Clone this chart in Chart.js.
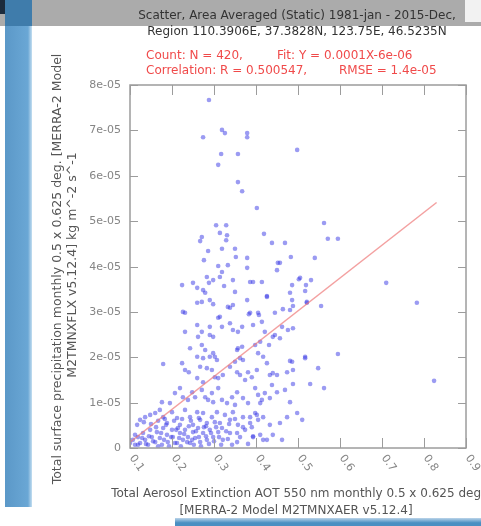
<!DOCTYPE html>
<html>
<head>
<meta charset="utf-8">
<script src="https://cdn.jsdelivr.net/npm/chart.js@4/dist/chart.umd.min.js"></script>
<style>
  html, body { margin: 0; padding: 0; background: #fff; }
  #page { position: relative; width: 481px; height: 526px; overflow: hidden; font-family: "DejaVu Sans", sans-serif; }
  .header { position: absolute; left: 0; top: 0; width: 481px; height: 26px; background: #ababab; }
  .corner { position: absolute; left: 0; top: 0; width: 30px; height: 14px; background: #1c2b3c; }
  .topbox { position: absolute; right: 0; top: 0; width: 16px; height: 22px; background: #f2f2f2; }
  .sidebar { position: absolute; left: 5px; top: 0; width: 27px; height: 507px;
    background: linear-gradient(to right, #5b98c8, #6aa7d5 85%, #c4def0); }
  .sidebar-top { position: absolute; left: 5px; top: 0; width: 27px; height: 26px; background: #3f7cab; }
  .footbar { position: absolute; left: 175px; top: 518px; width: 306px; height: 8px;
    background: linear-gradient(#bcd5ea, #4a8fc2 60%); }
  canvas { position: absolute; left: 0; top: 0; }
  .t { position: absolute; white-space: pre; font-size: 12px; line-height: 14px; }
  .center { transform: translateX(-50%); }
  .title { color: #333; }
  .red { color: #f04a4a; }
  .axis { color: #555; }
  .ylab { transform: translate(-50%, -50%) rotate(-90deg); font-size: 12.5px; }
</style>
</head>
<body>
<div id="page">
  <div class="header"></div>
  <div class="corner"></div>
  <div class="topbox"></div>
  <div class="sidebar"></div>
  <div class="sidebar-top"></div>
  <div class="footbar"></div>
  <canvas id="scatter" width="481" height="526"></canvas>

  <div class="t title center" style="left:297px; top:8px;">Scatter, Area Averaged (Static) 1981-jan - 2015-Dec,</div>
  <div class="t title center" style="left:297px; top:24px;">Region 110.3906E, 37.3828N, 123.75E, 46.5235N</div>
  <div class="t red" style="left:146px; top:48px;">Count: N = 420,</div>
  <div class="t red" style="left:277px; top:48px;">Fit: Y = 0.0001X-6e-06</div>
  <div class="t red" style="left:146px; top:63px;">Correlation: R = 0.500547,</div>
  <div class="t red" style="left:339px; top:63px;">RMSE = 1.4e-05</div>

  <div class="t axis ylab" style="left:57px; top:269px;">Total surface precipitation monthly 0.5 x 0.625 deg. [MERRA-2 Model</div>
  <div class="t axis ylab" style="left:72px; top:265px;">M2TMNXFLX v5.12.4] kg m^-2 s^-1</div>

  <div class="t axis center" style="left:298px; top:486px;">Total Aerosol Extinction AOT 550 nm monthly 0.5 x 0.625 deg.</div>
  <div class="t axis center" style="left:296px; top:503px;">[MERRA-2 Model M2TMNXAER v5.12.4]</div>
</div>

<script>
// AOT (x) and precipitation (y, in units of 1e-05 kg m^-2 s^-1)
const aot = [
  0.288,0.274,0.319,0.326,0.379,0.379,0.498,0.317,0.357,0.310,
  0.357,0.367,0.402,0.305,0.329,0.314,0.331,0.267,0.271,0.329,
  0.419,0.438,0.469,0.286,0.319,0.350,0.276,0.352,0.379,0.483,
  0.457,0.562,0.571,0.595,0.540,0.310,0.333,0.379,0.450,0.283,
  0.298,0.288,0.319,0.314,0.224,0.250,0.260,0.274,0.279,0.324,
  0.345,0.386,0.393,0.414,0.486,0.502,0.519,0.531,0.710,0.350,
  0.379,0.426,0.481,0.486,0.521,0.555,0.345,0.338,0.298,0.231,
  0.314,0.407,0.383,0.464,0.783,0.488,0.481,0.517,0.548,0.595,
  0.488,0.529,0.562,0.824,0.498,0.510,0.488,0.505,0.517,0.452,
  0.226,0.260,0.271,0.290,0.333,0.386,0.405,0.426,0.445,0.481,
  0.231,0.262,0.271,0.290,0.298,0.310,0.319,0.338,0.345,0.357,
  0.393,0.414,0.421,0.445,0.462,0.476,0.260,0.290,0.367,0.410,
  0.440,0.457,0.521,0.179,0.243,0.260,0.271,0.279,0.290,0.302,
  0.307,0.357,0.369,0.398,0.405,0.417,0.431,0.367,0.355,0.274,
  0.298,0.350,0.362,0.486,0.517,0.224,0.231,0.240,0.267,0.283,
  0.295,0.302,0.310,0.321,0.260,0.274,0.338,0.355,0.362,0.381,
  0.390,0.402,0.426,0.433,0.450,0.474,0.488,0.440,0.438,0.374,
  0.176,0.195,0.207,0.219,0.226,0.238,0.248,0.255,0.271,0.279,
  0.286,0.295,0.298,0.310,0.319,0.331,0.343,0.350,0.355,0.369,
  0.381,0.398,0.405,0.414,0.421,0.433,0.450,0.469,0.481,0.402,
  0.410,0.386,0.124,0.136,0.148,0.160,0.171,0.179,0.188,0.200,
  0.212,0.219,0.231,0.243,0.250,0.260,0.267,0.274,0.283,0.295,
  0.307,0.314,0.326,0.338,0.345,0.357,0.369,0.386,0.398,0.405,
  0.417,0.433,0.457,0.474,0.355,0.369,0.393,0.390,0.410,0.426,0.462,
  0.100,0.107,0.112,0.119,0.124,0.131,0.136,0.143,0.148,0.152,
  0.160,0.164,0.171,0.176,0.179,0.188,0.190,0.200,0.202,0.212,
  0.214,0.219,0.226,0.231,0.238,0.243,0.250,0.255,0.262,0.267,
  0.274,0.283,0.290,0.298,0.310,0.321,0.338,0.355,0.374,0.393,
  0.417,0.440,
  0.112,0.119,0.129,0.138,0.145,0.155,0.162,0.167,0.174,0.181,
  0.186,0.193,0.198,0.207,0.210,0.217,0.221,0.229,0.236,0.240,
  0.248,0.252,0.257,0.264,0.269,0.276,0.281,0.288,0.293,0.300,
  0.305,0.312,0.317,0.329,0.333,0.343,0.362,0.381,
  0.117,0.133,0.150,0.167,0.183,0.205,0.224,0.245,0.264,0.281,
  0.302,0.319,0.336,0.350
];
const precip = [
  7.67,6.85,7.01,6.94,6.94,6.85,6.57,6.48,6.48,6.24,
  5.86,5.66,5.29,4.91,4.91,4.74,4.69,4.56,4.65,4.58,
  4.72,4.52,4.52,4.34,4.39,4.39,4.14,4.21,4.19,4.21,
  4.08,4.96,4.61,4.61,4.19,4.01,4.03,3.97,3.92,3.77,
  3.70,3.64,3.88,3.77,3.59,3.64,3.53,3.48,3.42,3.57,
  3.70,3.66,3.66,3.66,3.59,3.72,3.59,3.70,3.64,3.44,
  3.26,3.35,3.42,3.26,3.20,3.13,3.15,3.09,3.17,2.98,
  2.89,2.93,2.95,3.06,3.20,2.64,1.92,1.98,1.76,2.07,
  1.41,1.41,1.32,1.48,0.77,0.62,3.13,3.75,3.46,4.08,
  3.00,3.20,3.22,3.26,3.11,2.98,2.98,3.33,2.98,3.04,
  2.56,2.45,2.56,2.49,2.45,2.87,2.67,2.75,2.60,2.56,
  2.71,2.78,2.56,2.49,2.67,2.60,2.71,2.67,2.67,2.34,
  2.45,2.42,3.22,1.85,2.20,2.01,2.27,2.16,2.01,2.01,
  1.94,2.20,1.94,2.27,2.09,2.01,2.27,2.23,2.16,1.98,
  2.09,1.90,1.98,1.90,2.01,1.87,1.72,1.67,1.79,1.76,
  1.72,1.56,1.54,1.61,1.54,1.45,1.79,1.67,1.61,1.67,
  1.56,1.72,1.87,1.61,1.61,1.67,1.72,1.65,1.39,1.50,
  1.01,0.99,1.21,1.32,1.12,1.06,1.23,1.12,1.28,1.12,
  1.06,1.21,1.01,1.32,1.06,0.99,1.12,0.95,1.23,1.10,
  0.99,1.32,1.17,1.06,1.21,1.10,1.23,1.28,1.01,0.73,
  0.99,0.68,0.62,0.68,0.73,0.77,0.84,0.68,0.55,0.79,
  0.66,0.51,0.84,0.68,0.51,0.79,0.62,0.77,0.55,0.68,
  0.79,0.55,0.73,0.62,0.79,0.51,0.68,0.55,0.77,0.62,
  0.68,0.51,0.55,0.68,0.33,0.46,0.26,0.46,0.29,0.18,0.18,
  0.11,0.18,0.07,0.24,0.11,0.33,0.18,0.07,0.40,0.24,
  0.13,0.35,0.22,0.07,0.44,0.29,0.13,0.40,0.24,0.11,
  0.44,0.33,0.18,0.40,0.24,0.11,0.35,0.22,0.44,0.13,
  0.33,0.18,0.40,0.24,0.35,0.18,0.33,0.13,0.40,0.24,
  0.18,0.29,
  0.29,0.07,0.22,0.09,0.26,0.15,0.46,0.04,0.33,0.18,
  0.51,0.04,0.24,0.11,0.40,0.22,0.04,0.31,0.13,0.48,
  0.18,0.07,0.37,0.24,0.04,0.46,0.26,0.09,0.33,0.15,
  0.46,0.24,0.07,0.37,0.20,0.07,0.24,0.09,
  0.51,0.57,0.53,0.60,0.64,0.60,0.64,0.60,0.66,0.48,
  0.57,0.44,0.53,0.64
];

// regression line end points
const fitX = [0.10, 0.83];
const fitY = [0.13, 5.41];

const xTicks = [0.1, 0.2, 0.3, 0.4, 0.5, 0.6, 0.7, 0.8, 0.9];
const xTickLabels = ["0.1", "0.2", "0.3", "0.4", "0.5", "0.6", "0.7", "0.8", "0.9"];
const yTicks = [0, 1, 2, 3, 4, 5, 6, 7, 8];
const yTickLabels = ["0", "1e-05", "2e-05", "3e-05", "4e-05", "5e-05", "6e-05", "7e-05", "8e-05"];

// box, inward ticks and tick labels
const axisBox = {
  id: "axisBox",
  afterDraw(chart) {
    const { ctx, chartArea: a, scales: { x, y } } = chart;
    ctx.save();
    ctx.strokeStyle = "#9c9c9c";
    ctx.lineWidth = 1.5;
    ctx.strokeRect(a.left, a.top, a.right - a.left, a.bottom - a.top);
    ctx.lineWidth = 1;
    ctx.fillStyle = "#858585";
    ctx.font = "11px 'DejaVu Sans'";

    xTicks.forEach((v, i) => {
      const px = Math.round(x.getPixelForValue(v)) + 0.5;
      ctx.beginPath();
      ctx.moveTo(px, a.bottom); ctx.lineTo(px, a.bottom - 10);
      ctx.moveTo(px, a.top); ctx.lineTo(px, a.top + 10);
      ctx.stroke();
      ctx.save();
      ctx.translate(px + 1, a.bottom + 8);
      ctx.rotate(55 * Math.PI / 180);
      ctx.textAlign = "left";
      ctx.textBaseline = "middle";
      ctx.fillText(xTickLabels[i], 0, 0);
      ctx.restore();
    });

    ctx.textAlign = "right";
    ctx.textBaseline = "middle";
    yTicks.forEach((v, i) => {
      const py = Math.round(y.getPixelForValue(v)) + 0.5;
      ctx.beginPath();
      ctx.moveTo(a.left, py); ctx.lineTo(a.left + 8, py);
      ctx.moveTo(a.right, py); ctx.lineTo(a.right - 8, py);
      ctx.stroke();
      ctx.fillText(yTickLabels[i], a.left - 9, py);
    });
    ctx.restore();
  }
};

new Chart(document.getElementById("scatter"), {
  type: "scatter",
  data: {
    datasets: [
      {
        type: "line",
        data: fitX.map((v, i) => ({ x: v, y: fitY[i] })),
        borderColor: "rgba(238,120,120,0.7)",
        borderWidth: 1.5,
        pointRadius: 0,
        order: 0
      },
      {
        data: aot.map((v, i) => ({ x: v, y: precip[i] })),
        backgroundColor: "rgba(55,55,230,0.5)",
        borderWidth: 0,
        pointRadius: 2.3,
        order: 1
      }
    ]
  },
  options: {
    responsive: false,
    animation: false,
    layout: { padding: { left: 130, right: 15, top: 85, bottom: 78 } },
    plugins: { legend: { display: false }, tooltip: { enabled: false } },
    scales: {
      x: { type: "linear", min: 0.1, max: 0.9, display: false },
      y: { type: "linear", min: 0, max: 8, display: false }
    }
  },
  plugins: [axisBox]
});
</script>
</body>
</html>
